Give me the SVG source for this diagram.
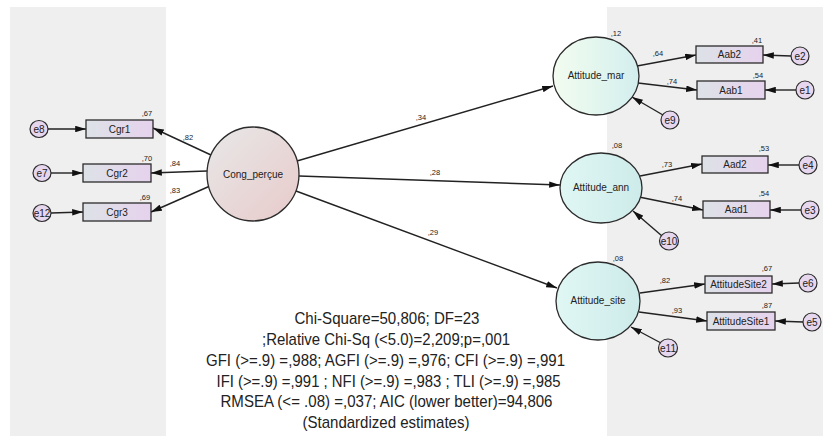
<svg xmlns="http://www.w3.org/2000/svg" width="823" height="436" viewBox="0 0 823 436">
<style>
.bg{fill:#efefef}
.obs{fill:url(#gObs);stroke:#2b2b2b;stroke-width:1.3}
.err{fill:#e6d6ee;stroke:#2b2b2b;stroke-width:1.2}
.lat{stroke:#2b2b2b;stroke-width:1.3}
.lbl{font-family:"Liberation Sans",Arial,sans-serif;font-size:10px;fill:#222;text-anchor:middle}
.num{font-family:"Liberation Sans",Arial,sans-serif;font-size:7.5px;fill:#222;text-anchor:middle}
.fit{font-family:"Liberation Sans",Arial,sans-serif;font-size:17px;fill:#222;text-anchor:middle}
.con line{stroke:#222;stroke-width:1.4;marker-end:url(#ah)}
</style>
<defs>
<marker id="ah" viewBox="0 0 10 6" refX="10" refY="3" markerWidth="11" markerHeight="6.5" markerUnits="userSpaceOnUse" orient="auto">
<path d="M0,0 L10,3 L0,6 z" fill="#111"/>
</marker>
<linearGradient id="gObs" x1="0" y1="0" x2="1" y2="0">
<stop offset="0" stop-color="#dde2e7"/>
<stop offset="1" stop-color="#e6d2ed"/>
</linearGradient>
<linearGradient id="gCong" x1="0" y1="0" x2="1" y2="1">
<stop offset="0" stop-color="#e8e8e8"/>
<stop offset="1" stop-color="#e8caca"/>
</linearGradient>
<linearGradient id="gMar" x1="0" y1="0" x2="1" y2="0">
<stop offset="0" stop-color="#f3fcf0"/>
<stop offset="0.5" stop-color="#e3f6ee"/>
<stop offset="1" stop-color="#d3eeef"/>
</linearGradient>
<linearGradient id="gAnn" x1="0" y1="0" x2="1" y2="0">
<stop offset="0" stop-color="#e0f7f4"/>
<stop offset="1" stop-color="#cdebea"/>
</linearGradient>
</defs>
<rect width="823" height="436" fill="#ffffff"/>
<rect class="bg" x="10" y="7" width="156" height="429"/>
<rect class="bg" x="607" y="7" width="216" height="429"/>

<g class="con" id="connectors">
<line x1="48" y1="129" x2="86" y2="129"/>
<line x1="51" y1="173" x2="83" y2="173"/>
<line x1="51" y1="213" x2="83" y2="212"/>
<line x1="211" y1="155" x2="153" y2="128"/>
<line x1="207" y1="171" x2="151" y2="173"/>
<line x1="210" y1="186" x2="151" y2="212"/>
<line x1="297" y1="161" x2="553" y2="86"/>
<line x1="299" y1="176" x2="560" y2="185"/>
<line x1="296" y1="191" x2="557" y2="288"/>
<line x1="637" y1="66" x2="696" y2="55"/>
<line x1="638" y1="83" x2="697" y2="90"/>
<line x1="663" y1="115" x2="632" y2="97"/>
<line x1="791" y1="56" x2="763" y2="55"/>
<line x1="796" y1="90" x2="765" y2="90"/>
<line x1="640" y1="176" x2="702" y2="164"/>
<line x1="639" y1="197" x2="703" y2="210"/>
<line x1="662" y1="236" x2="633" y2="211"/>
<line x1="799" y1="165" x2="768" y2="165"/>
<line x1="801" y1="210" x2="770" y2="210"/>
<line x1="640" y1="293" x2="705" y2="284"/>
<line x1="639" y1="312" x2="707" y2="321"/>
<line x1="661" y1="343" x2="631" y2="327"/>
<line x1="799" y1="283" x2="772" y2="284"/>
<line x1="803" y1="322" x2="775" y2="321"/>
</g>

<g id="edge-labels">
<text class="num" x="188" y="140">,82</text>
<text class="num" x="175" y="166">,84</text>
<text class="num" x="175" y="193">,83</text>
<text class="num" x="421" y="120">,34</text>
<text class="num" x="435" y="175">,28</text>
<text class="num" x="433" y="235">,29</text>
<text class="num" x="658" y="56">,64</text>
<text class="num" x="672" y="84">,74</text>
<text class="num" x="667" y="167">,73</text>
<text class="num" x="677" y="201">,74</text>
<text class="num" x="665" y="283">,82</text>
<text class="num" x="677" y="313">,93</text>
</g>

<g id="e8"><ellipse class="err" cx="39" cy="129" rx="9" ry="8.5"/><text class="lbl" x="39" y="132.5">e8</text></g>
<g id="e7"><ellipse class="err" cx="42" cy="173" rx="9" ry="8.5"/><text class="lbl" x="42" y="176.5">e7</text></g>
<g id="e12"><ellipse class="err" cx="42" cy="213" rx="9" ry="8.5"/><text class="lbl" x="42" y="216.5">e12</text></g>

<g id="Cgr1"><rect class="obs" x="86" y="120" width="67" height="18"/><text class="lbl" x="119.5" y="132.5">Cgr1</text><text class="num" x="147" y="116">,67</text></g>
<g id="Cgr2"><rect class="obs" x="83" y="164" width="68" height="18"/><text class="lbl" x="117" y="176.5">Cgr2</text><text class="num" x="147" y="161">,70</text></g>
<g id="Cgr3"><rect class="obs" x="83" y="203" width="68" height="18"/><text class="lbl" x="117" y="215.5">Cgr3</text><text class="num" x="145" y="200">,69</text></g>

<g id="Cong_percue"><ellipse class="lat" fill="url(#gCong)" cx="253" cy="174" rx="46" ry="47"/><text class="lbl" x="253" y="178">Cong_perçue</text></g>

<g id="Attitude_mar"><ellipse class="lat" fill="url(#gMar)" cx="596" cy="76" rx="43" ry="39"/><text class="lbl" x="596" y="79">Attitude_mar</text><text class="num" x="616" y="36">,12</text></g>
<g id="Aab2"><rect class="obs" x="696" y="46" width="67" height="17"/><text class="lbl" x="729.5" y="58">Aab2</text><text class="num" x="757" y="43">,41</text></g>
<g id="Aab1"><rect class="obs" x="697" y="81" width="68" height="18"/><text class="lbl" x="731" y="93.5">Aab1</text><text class="num" x="758" y="78">,54</text></g>
<g id="e2"><ellipse class="err" cx="800" cy="56" rx="9" ry="9"/><text class="lbl" x="800" y="59.5">e2</text></g>
<g id="e1"><ellipse class="err" cx="805" cy="90" rx="9" ry="9"/><text class="lbl" x="805" y="93.5">e1</text></g>
<g id="e9"><ellipse class="err" cx="670" cy="120" rx="9" ry="9"/><text class="lbl" x="670" y="123.5">e9</text></g>

<g id="Attitude_ann"><ellipse class="lat" fill="url(#gAnn)" cx="601" cy="188" rx="41" ry="35"/><text class="lbl" x="601" y="191">Attitude_ann</text><text class="num" x="617" y="148">,08</text></g>
<g id="Aad2"><rect class="obs" x="702" y="156" width="66" height="17"/><text class="lbl" x="735" y="168">Aad2</text><text class="num" x="764" y="151">,53</text></g>
<g id="Aad1"><rect class="obs" x="703" y="201" width="67" height="17"/><text class="lbl" x="736.5" y="213">Aad1</text><text class="num" x="764" y="196">,54</text></g>
<g id="e4"><ellipse class="err" cx="808" cy="165" rx="9" ry="9"/><text class="lbl" x="808" y="168.5">e4</text></g>
<g id="e3"><ellipse class="err" cx="810" cy="210" rx="9" ry="9"/><text class="lbl" x="810" y="213.5">e3</text></g>
<g id="e10"><ellipse class="err" cx="669" cy="241" rx="9.5" ry="9"/><text class="lbl" x="669" y="244.5">e10</text></g>

<g id="Attitude_site"><ellipse class="lat" fill="url(#gAnn)" cx="598" cy="301" rx="42" ry="39"/><text class="lbl" x="598" y="304">Attitude_site</text><text class="num" x="618" y="261">,08</text></g>
<g id="AttitudeSite2"><rect class="obs" x="705" y="276" width="67" height="17"/><text class="lbl" x="738.5" y="288" font-size="9.5">AttitudeSite2</text><text class="num" x="767" y="271">,67</text></g>
<g id="AttitudeSite1"><rect class="obs" x="707" y="312" width="68" height="18"/><text class="lbl" x="741" y="324.5" font-size="9.5">AttitudeSite1</text><text class="num" x="767" y="308">,87</text></g>
<g id="e6"><ellipse class="err" cx="808" cy="283" rx="9" ry="9"/><text class="lbl" x="808" y="286.5">e6</text></g>
<g id="e5"><ellipse class="err" cx="812" cy="322" rx="9" ry="9"/><text class="lbl" x="812" y="325.5">e5</text></g>
<g id="e11"><ellipse class="err" cx="668" cy="348" rx="9.5" ry="9"/><text class="lbl" x="668" y="351.5">e11</text></g>

<g id="fit-stats">
<text class="fit" x="387" y="324" textLength="185" lengthAdjust="spacingAndGlyphs">Chi-Square=50,806; DF=23</text>
<text class="fit" x="386" y="345" textLength="248" lengthAdjust="spacingAndGlyphs">;Relative Chi-Sq (&lt;5.0)=2,209;p=,001</text>
<text class="fit" x="385.5" y="366" textLength="359" lengthAdjust="spacingAndGlyphs">GFI (&gt;=.9) =,988; AGFI (&gt;=.9) =,976; CFI (&gt;=.9) =,991</text>
<text class="fit" x="388.5" y="387" textLength="344" lengthAdjust="spacingAndGlyphs">IFI (&gt;=.9) =,991 ; NFI (&gt;=.9) =,983 ; TLI (&gt;=.9) =,985</text>
<text class="fit" x="386.5" y="407" textLength="332" lengthAdjust="spacingAndGlyphs">RMSEA (&lt;= .08) =,037; AIC (lower better)=94,806</text>
<text class="fit" x="386" y="428" textLength="167" lengthAdjust="spacingAndGlyphs">(Standardized estimates)</text>
</g>
</svg>
